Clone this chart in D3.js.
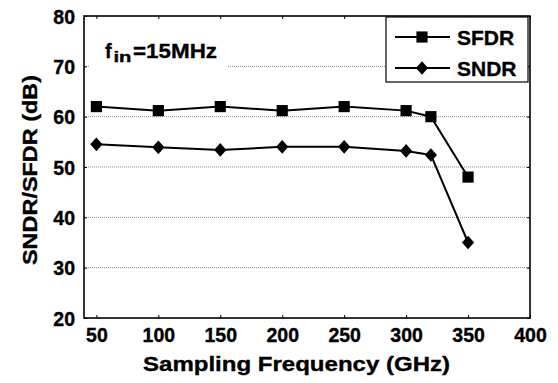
<!DOCTYPE html>
<html>
<head>
<meta charset="utf-8">
<script src="https://cdn.jsdelivr.net/npm/d3@7"></script>
<style>
  body { margin: 0; background: #fff; }
  svg text { font-family: "Liberation Sans", Arial, sans-serif; font-weight: bold; fill: #000; stroke: #000; stroke-width: 0.35px; }
</style>
</head>
<body>
<svg id="chart" width="558" height="383"></svg>
<script>
const freqs = [50, 100, 150, 200, 250, 300, 320, 350];
const sfdr = [62, 61.2, 62, 61.2, 62, 61.2, 60, 48];
const sndr = [54.5, 53.9, 53.4, 54, 54, 53.2, 52.4, 35];
const xTicks = [50, 100, 150, 200, 250, 300, 350, 400];
const yTicks = [20, 30, 40, 50, 60, 70, 80];

const margin = { left: 84, right: 28, top: 16, bottom: 65 };
const width = 558, height = 383;

const svg = d3.select('#chart');

const x = d3.scaleLinear().domain([40, 400]).range([margin.left, width - margin.right]);
const y = d3.scaleLinear().domain([20, 80]).range([height - margin.bottom, margin.top]);

// diamond a bit wider than d3's default one
const wideDiamond = {
  draw(ctx, size) {
    const h = Math.sqrt(size) * 0.62, w = h * 0.9;
    ctx.moveTo(0, -h); ctx.lineTo(w, 0); ctx.lineTo(0, h); ctx.lineTo(-w, 0); ctx.closePath();
  }
};

// grid
svg.append('g')
  .selectAll('line')
  .data(yTicks.filter(d => d > 20 && d < 80))
  .enter().append('line')
  .attr('x1', x(40)).attr('x2', x(400))
  .attr('y1', d => y(d)).attr('y2', d => y(d))
  .attr('stroke', '#8c8c8c')
  .attr('stroke-width', 1)
  .attr('stroke-dasharray', '1,1');

// axes (ticks inward)
const axBottom = svg.append('g')
  .attr('transform', `translate(0,${y(20)})`)
  .call(d3.axisBottom(x).tickValues(xTicks).tickSize(-3).tickPadding(10));
const axTop = svg.append('g')
  .attr('transform', `translate(0,${y(80)})`)
  .call(d3.axisTop(x).tickValues(xTicks).tickSize(-3).tickFormat(''));
const axLeft = svg.append('g')
  .attr('transform', `translate(${x(40)},0)`)
  .call(d3.axisLeft(y).tickValues(yTicks).tickSize(-3).tickPadding(9));
const axRight = svg.append('g')
  .attr('transform', `translate(${x(400)},0)`)
  .call(d3.axisRight(y).tickValues(yTicks).tickSize(-3).tickFormat(''));

[axBottom, axTop, axLeft, axRight].forEach(g => {
  g.select('.domain').remove();
  g.selectAll('.tick line').attr('stroke', '#000').attr('stroke-width', 1);
  g.selectAll('text').attr('font-size', 19.5).attr('font-family', null).attr('fill', '#000');
});
axBottom.selectAll('.tick text').attr('dy', '0.71em');
axLeft.selectAll('.tick text').attr('dy', '0.36em');

// annotation with white background
svg.append('rect')
  .attr('x', 90).attr('y', 36).attr('width', 138).attr('height', 32)
  .attr('fill', '#fff');
svg.append('text').attr('x', 105).attr('y', 58).attr('font-size', 20).text('f');
svg.append('text').attr('x', 113.5).attr('y', 62).attr('font-size', 15)
  .attr('textLength', 18).attr('lengthAdjust', 'spacingAndGlyphs').text('in');
svg.append('text').attr('x', 133).attr('y', 58).attr('font-size', 20)
  .attr('textLength', 84).attr('lengthAdjust', 'spacingAndGlyphs').text('=15MHz');

// frame
svg.append('rect')
  .attr('x', x(40)).attr('y', y(80))
  .attr('width', x(400) - x(40)).attr('height', y(20) - y(80))
  .attr('fill', 'none').attr('stroke', '#000').attr('stroke-width', 1.6);

// series
const line = d3.line().x(d => x(d[0])).y(d => y(d[1]));
const series = [
  { name: 'SFDR', vals: sfdr, sym: d3.symbolSquare, size: 125 },
  { name: 'SNDR', vals: sndr, sym: wideDiamond, size: 120 }
];

series.forEach(s => {
  const pts = freqs.map((f, i) => [f, s.vals[i]]);
  svg.append('path')
    .attr('d', line(pts))
    .attr('fill', 'none').attr('stroke', '#000').attr('stroke-width', 2);
  svg.append('g').selectAll('path')
    .data(pts)
    .enter().append('path')
    .attr('transform', d => `translate(${x(d[0])},${y(d[1])})`)
    .attr('d', d3.symbol().type(s.sym).size(s.size))
    .attr('fill', '#000');
});

// legend
const lg = svg.append('g');
lg.append('rect')
  .attr('x', 386).attr('y', 17).attr('width', 142).attr('height', 65)
  .attr('fill', '#fff').attr('stroke', '#000').attr('stroke-width', 1.2);
series.forEach((s, i) => {
  const cy = 37 + i * 31;
  lg.append('line').attr('x1', 395).attr('x2', 450).attr('y1', cy).attr('y2', cy)
    .attr('stroke', '#000').attr('stroke-width', 2);
  lg.append('path').attr('transform', `translate(422,${cy})`)
    .attr('d', d3.symbol().type(s.sym).size(s.size)).attr('fill', '#000');
  lg.append('text').attr('x', 457).attr('y', cy).attr('dy', '0.36em')
    .attr('font-size', 21).text(s.name);
});

// axis titles
svg.append('text')
  .attr('x', 143).attr('y', 371)
  .attr('font-size', 20.5)
  .attr('textLength', 307).attr('lengthAdjust', 'spacingAndGlyphs')
  .text('Sampling Frequency (GHz)');
svg.append('text')
  .attr('transform', 'translate(36.5,265) rotate(-90)')
  .attr('font-size', 21)
  .attr('textLength', 190).attr('lengthAdjust', 'spacingAndGlyphs')
  .text('SNDR/SFDR (dB)');
</script>
</body>
</html>
